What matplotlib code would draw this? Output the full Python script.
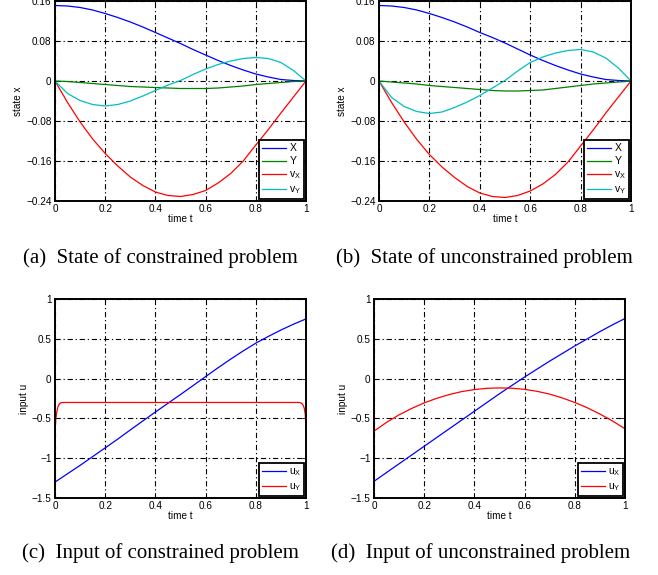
import matplotlib
matplotlib.use("Agg")
import matplotlib.pyplot as plt

plt.rcParams["font.family"] = ["Liberation Sans", "DejaVu Sans"]
plt.rcParams["lines.scale_dashes"] = False

# time samples
time = [0, 0.05, 0.1, 0.15, 0.2, 0.25, 0.3, 0.35, 0.4, 0.45, 0.5,
        0.55, 0.6, 0.65, 0.7, 0.75, 0.8, 0.85, 0.9, 0.95, 1.0]

# (a) state, constrained
a_X = [0.151, 0.150, 0.147, 0.142, 0.135, 0.127, 0.118, 0.108, 0.097, 0.086, 0.075,
       0.063, 0.052, 0.041, 0.031, 0.022, 0.014, 0.008, 0.003, 0.001, 0.0]
a_Y = [0.0, -0.001, -0.003, -0.005, -0.007, -0.009, -0.011, -0.012, -0.013, -0.014, -0.015,
       -0.015, -0.015, -0.014, -0.012, -0.010, -0.007, -0.005, -0.003, -0.001, 0.0]
a_vX = [0.0, -0.043, -0.082, -0.116, -0.145, -0.170, -0.192, -0.209, -0.222, -0.229, -0.231,
        -0.227, -0.219, -0.204, -0.185, -0.160, -0.128, -0.097, -0.064, -0.032, 0.0]
a_vY = [0.0, -0.025, -0.039, -0.047, -0.050, -0.047, -0.040, -0.030, -0.019, -0.008, 0.001,
        0.013, 0.024, 0.033, 0.040, 0.045, 0.047, 0.045, 0.037, 0.021, 0.0]

# (b) state, unconstrained
b_X = [0.151, 0.150, 0.147, 0.142, 0.135, 0.127, 0.118, 0.108, 0.097, 0.087, 0.076,
       0.064, 0.052, 0.041, 0.031, 0.022, 0.014, 0.008, 0.003, 0.001, 0.0]
b_Y = [0.0, -0.002, -0.004, -0.006, -0.009, -0.011, -0.013, -0.015, -0.017, -0.019, -0.020,
       -0.020, -0.019, -0.018, -0.015, -0.012, -0.009, -0.006, -0.004, -0.002, 0.0]
b_vX = [0.0, -0.043, -0.082, -0.117, -0.147, -0.172, -0.193, -0.211, -0.224, -0.231, -0.233,
        -0.229, -0.220, -0.206, -0.187, -0.162, -0.130, -0.098, -0.064, -0.032, 0.0]
b_vY = [0.0, -0.033, -0.051, -0.061, -0.065, -0.062, -0.053, -0.042, -0.029, -0.014, 0.001,
        0.020, 0.037, 0.048, 0.056, 0.061, 0.063, 0.058, 0.046, 0.026, 0.0]

# (c) input, constrained
c_uX = [-1.30, -1.195, -1.09, -0.98, -0.87, -0.76, -0.645, -0.532, -0.42, -0.31, -0.20,
        -0.088, 0.025, 0.137, 0.245, 0.348, 0.445, 0.53, 0.61, 0.683, 0.75]
c_time_uY = [0, 0.003, 0.007, 0.012, 0.018, 0.025, 0.03, 0.97, 0.976, 0.982, 0.988, 0.993, 0.997, 1.0]
c_uY = [-0.667, -0.52, -0.42, -0.35, -0.315, -0.302, -0.30, -0.30, -0.302, -0.31, -0.33, -0.37, -0.45, -0.63]

# (d) input, unconstrained
d_uX = [-1.29, -1.18, -1.07, -0.96, -0.85, -0.74, -0.63, -0.52, -0.41, -0.30, -0.19,
        -0.085, 0.02, 0.12, 0.22, 0.315, 0.41, 0.50, 0.59, 0.675, 0.755]
d_uY = [-0.66, -0.55, -0.455, -0.375, -0.305, -0.248, -0.20, -0.163, -0.138, -0.122, -0.117,
        -0.121, -0.135, -0.16, -0.195, -0.243, -0.30, -0.367, -0.445, -0.532, -0.63]

xticks = [0, 0.2, 0.4, 0.6, 0.8, 1]
xticklabels = ["0", "0.2", "0.4", "0.6", "0.8", "1"]
state_ticks = [0.16, 0.08, 0, -0.08, -0.16, -0.24]
state_labels = ["0.16", "0.08", "0", "\u22120.08", "\u22120.16", "\u22120.24"]
input_ticks = [1, 0.5, 0, -0.5, -1, -1.5]
input_labels = ["1", "0.5", "0", "\u22120.5", "\u22121", "\u22121.5"]

captions = ["(a)  State of constrained problem", "(b)  State of unconstrained problem",
            "(c)  Input of constrained problem", "(d)  Input of unconstrained problem"]

W, H = 658, 575
fig = plt.figure(figsize=(W / 100, H / 100), dpi=100)


def make_axes(left, top, right, bottom):
    return fig.add_axes([left / W, 1 - bottom / H, (right - left) / W, (bottom - top) / H])


def style(ax, yticks, ylabels, ylim, ylabel):
    ax.set_xlim(0, 1)
    ax.set_ylim(*ylim)
    ax.set_xticks(xticks)
    ax.set_xticklabels(xticklabels)
    ax.set_yticks(yticks)
    ax.set_yticklabels(ylabels)
    ax.tick_params(direction="in", top=True, right=True, length=3, width=0.6,
                   labelsize=7.2, pad=2.5)
    ax.grid(True, color="black", linewidth=0.8, linestyle=(0, (3.8, 2.0, 0.9, 2.0)))
    for s in ax.spines.values():
        s.set_linewidth(1.4)
    ax.set_xlabel("time t", fontsize=7.2, labelpad=0)
    ax.set_ylabel(ylabel, fontsize=7.2, labelpad=2)


def legend(ax, handles):
    leg = ax.legend(handles=handles, loc="lower right", fontsize=7.5, handlelength=2.3,
                    handletextpad=0.3, labelspacing=0.3, borderaxespad=0.15,
                    borderpad=0.3, fancybox=False, framealpha=1, edgecolor="black")
    leg.get_frame().set_linewidth(1.3)


blue, green, red, cyan = "#0000ff", "#008000", "#ff0000", "#00bfbf"
lw = 0.9

ax = make_axes(55, 1, 306, 201)
h = []
h += ax.plot(time, a_X, color=blue, lw=lw, label="X")
h += ax.plot(time, a_Y, color=green, lw=lw, label="Y")
h += ax.plot(time, a_vX, color=red, lw=lw, label=r"$\mathregular{v_X}$")
h += ax.plot(time, a_vY, color=cyan, lw=lw, label=r"$\mathregular{v_Y}$")
style(ax, state_ticks, state_labels, (-0.24, 0.16), "state x")
legend(ax, h)

ax = make_axes(379, 1, 631, 201)
h = []
h += ax.plot(time, b_X, color=blue, lw=lw, label="X")
h += ax.plot(time, b_Y, color=green, lw=lw, label="Y")
h += ax.plot(time, b_vX, color=red, lw=lw, label=r"$\mathregular{v_X}$")
h += ax.plot(time, b_vY, color=cyan, lw=lw, label=r"$\mathregular{v_Y}$")
style(ax, state_ticks, state_labels, (-0.24, 0.16), "state x")
legend(ax, h)

ax = make_axes(55, 299, 306, 498)
h = []
h += ax.plot(time, c_uX, color=blue, lw=lw, label=r"$\mathregular{u_X}$")
h += ax.plot(c_time_uY, c_uY, color=red, lw=lw, label=r"$\mathregular{u_Y}$")
style(ax, input_ticks, input_labels, (-1.5, 1), "input u")
legend(ax, h)

ax = make_axes(374, 299, 625, 498)
h = []
h += ax.plot(time, d_uX, color=blue, lw=lw, label=r"$\mathregular{u_X}$")
h += ax.plot(time, d_uY, color=red, lw=lw, label=r"$\mathregular{u_Y}$")
style(ax, input_ticks, input_labels, (-1.5, 1), "input u")
legend(ax, h)

cap_pos = [(160, 258), (484, 258), (160, 553), (481, 553)]
for (cx, cy), txt in zip(cap_pos, captions):
    fig.text(cx / W, 1 - cy / H, txt, ha="center", va="center", fontsize=15,
             family="Liberation Serif")

fig.savefig("out.png", dpi=100)
